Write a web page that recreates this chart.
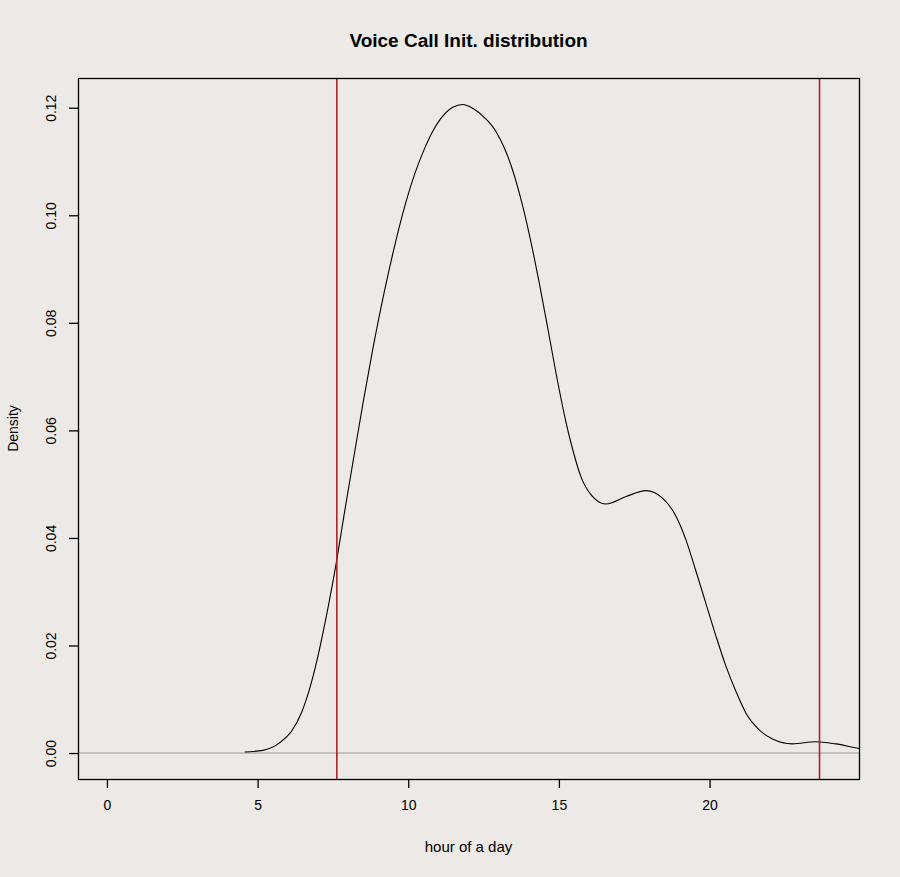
<!DOCTYPE html>
<html>
  <head>
    <title>Voice Call Init. distribution</title>
    <script src="https://d3js.org/d3.v7.min.js"></script>
    <style>
      body {
        margin: 0;
        background: #ece9e6;
      }
      text {
        font-family: "Liberation Sans", Arial, sans-serif;
        fill: #000;
      }
    </style>
  </head>
  <body>
    <div id="chart"></div>

    <script>
      // density curve (hour -> density)
      const hours = [
        4.57, 5.17, 5.73, 6.12, 6.45, 6.78, 7.05, 7.33, 7.61, 7.88, 8.16, 8.49,
        8.82, 9.21, 9.49, 9.71, 9.93, 10.21, 10.54, 10.81, 11.03, 11.48, 11.81,
        12.14, 12.58, 12.92, 13.19, 13.41, 13.63, 13.8, 13.96, 14.16, 14.35,
        14.68, 15.01, 15.24, 15.46, 15.73, 16.07, 16.56, 17.23, 17.89, 18.44,
        18.89, 19.22, 19.55, 19.88, 20.21, 20.54, 20.88, 21.21, 21.65, 22.09,
        22.75, 23.53, 24.19, 24.94, 25.3
      ];
      const density = [
        0.0002, 0.0005, 0.0019, 0.004, 0.0074, 0.013, 0.0192, 0.0268, 0.0353,
        0.0446, 0.0539, 0.0648, 0.075, 0.0859, 0.0929, 0.098, 0.1026, 0.1076,
        0.1124, 0.1156, 0.1176, 0.1201, 0.1206, 0.1199, 0.1179, 0.1155, 0.1125,
        0.1093, 0.1053, 0.1017, 0.0979, 0.0927, 0.0874, 0.0775, 0.0676, 0.0614,
        0.0564, 0.0514, 0.048, 0.0463, 0.0477, 0.0488, 0.0474, 0.044, 0.0396,
        0.0338, 0.0278, 0.0218, 0.0162, 0.0114, 0.0074, 0.0043, 0.0026, 0.0017,
        0.0021, 0.0017, 0.0009, 0.0006
      ];
      // vertical reference lines
      const markers = [7.63, 23.65];
      const xTicks = [0, 5, 10, 15, 20];
      const yTicks = [0, 0.02, 0.04, 0.06, 0.08, 0.1, 0.12];

      const width = 900;
      const height = 877;
      const margin = { top: 78, right: 41, bottom: 98, left: 78 };

      const svg = d3
        .select("#chart")
        .append("svg")
        .attr("width", width)
        .attr("height", height);

      // R style: limits padded by 4%
      const xLim = [0, 24];
      const yLim = [0, 0.1207];
      const xPad = (xLim[1] - xLim[0]) * 0.04;
      const yPad = (yLim[1] - yLim[0]) * 0.04;

      const x = d3
        .scaleLinear()
        .domain([xLim[0] - xPad, xLim[1] + xPad])
        .range([margin.left, width - margin.right]);
      const y = d3
        .scaleLinear()
        .domain([yLim[0] - yPad, yLim[1] + yPad])
        .range([height - margin.bottom, margin.top]);

      svg
        .append("clipPath")
        .attr("id", "plotClip")
        .append("rect")
        .attr("x", margin.left)
        .attr("y", margin.top)
        .attr("width", width - margin.left - margin.right)
        .attr("height", height - margin.top - margin.bottom);

      const plot = svg.append("g").attr("clip-path", "url(#plotClip)");

      // zero line
      plot
        .append("line")
        .attr("x1", margin.left)
        .attr("x2", width - margin.right)
        .attr("y1", y(0))
        .attr("y2", y(0))
        .attr("stroke", "#9a9a9a")
        .attr("stroke-width", 1);

      const data = hours.map((h, i) => ({ h: h, d: density[i] }));

      // monotoneX handles the uneven hour spacing without kinks
      const line = d3
        .line()
        .x((d) => x(d.h))
        .y((d) => y(d.d))
        .curve(d3.curveMonotoneX);

      plot
        .append("path")
        .datum(data)
        .attr("fill", "none")
        .attr("stroke", "#000")
        .attr("stroke-width", 1.1)
        .attr("d", line);

      plot
        .selectAll(".marker")
        .data(markers)
        .join("line")
        .attr("class", "marker")
        .attr("x1", (d) => x(d))
        .attr("x2", (d) => x(d))
        .attr("y1", margin.top)
        .attr("y2", height - margin.bottom)
        .attr("stroke", "#b0202a")
        .attr("stroke-width", 1.6);

      // box
      svg
        .append("rect")
        .attr("x", margin.left + 0.5)
        .attr("y", margin.top + 0.5)
        .attr("width", width - margin.left - margin.right)
        .attr("height", height - margin.top - margin.bottom)
        .attr("fill", "none")
        .attr("stroke", "#000")
        .attr("stroke-width", 1.3);

      // x axis
      const xAxis = d3
        .axisBottom(x)
        .tickValues(xTicks)
        .tickSize(9)
        .tickPadding(12)
        .tickFormat(d3.format("d"));

      const gx = svg
        .append("g")
        .attr("transform", "translate(0," + (height - margin.bottom) + ")")
        .call(xAxis);
      gx.select(".domain").remove();
      gx.selectAll(".tick line").attr("stroke", "#000").attr("stroke-width", 1.3);
      gx.selectAll(".tick text").style("font-size", "14px");

      // y axis, labels rotated like R
      const yAxis = d3
        .axisLeft(y)
        .tickValues(yTicks)
        .tickSize(9)
        .tickFormat(d3.format(".2f"));

      const gy = svg
        .append("g")
        .attr("transform", "translate(" + margin.left + ",0)")
        .call(yAxis);
      gy.select(".domain").remove();
      gy.selectAll(".tick line").attr("stroke", "#000").attr("stroke-width", 1.3);
      gy.selectAll(".tick text")
        .attr("x", 0)
        .attr("dy", 0)
        .attr("transform", "translate(-22,0) rotate(-90)")
        .attr("text-anchor", "middle")
        .style("font-size", "14px");

      // title and axis labels
      svg
        .append("text")
        .attr("x", (margin.left + width - margin.right) / 2)
        .attr("y", 47)
        .attr("text-anchor", "middle")
        .style("font-size", "19px")
        .style("font-weight", "bold")
        .text("Voice Call Init. distribution");

      svg
        .append("text")
        .attr("x", (margin.left + width - margin.right) / 2)
        .attr("y", 852)
        .attr("text-anchor", "middle")
        .style("font-size", "15px")
        .text("hour of a day");

      svg
        .append("text")
        .attr("transform", "translate(18," + (margin.top + height - margin.bottom) / 2 + ") rotate(-90)")
        .attr("text-anchor", "middle")
        .style("font-size", "14px")
        .text("Density");
    </script>
  </body>
</html>
